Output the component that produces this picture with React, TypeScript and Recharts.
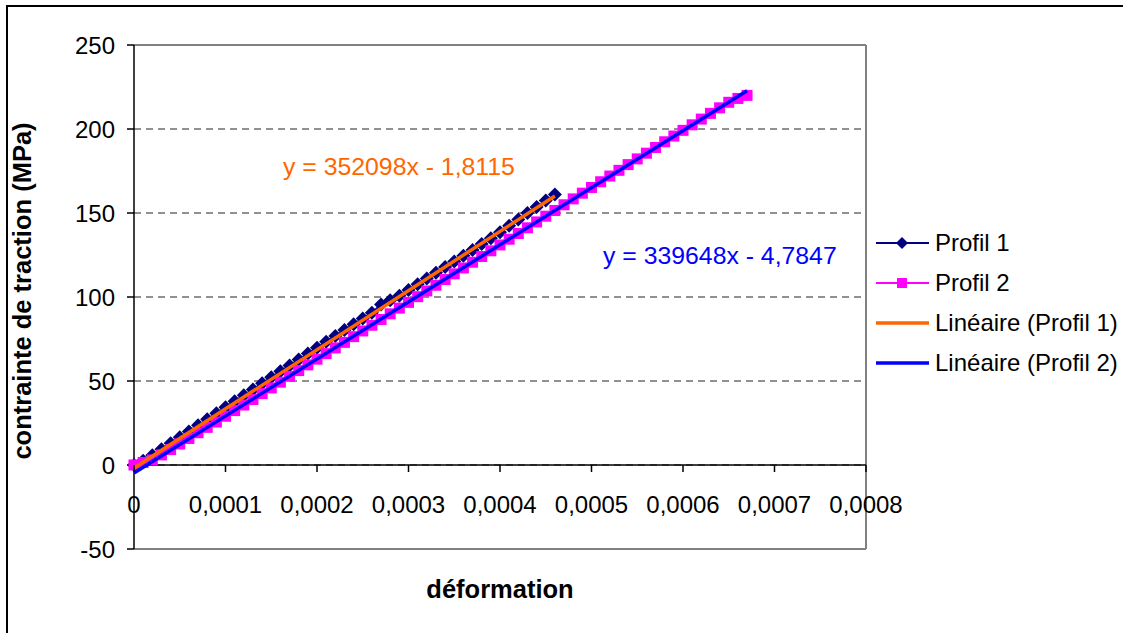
import React from "react";
import { LineChart, Line, XAxis, YAxis, CartesianGrid, ReferenceLine } from "recharts";

// strain in microstrain (µm/m), stress in MPa
const strain1 = [
  0, 10, 20, 30, 40, 50, 60, 70, 80, 90, 100, 110, 120, 130, 140, 150, 160, 170, 180, 190, 200, 210, 220,
  230, 240, 250, 260, 270, 280, 290, 300, 310, 320, 330, 340, 350, 360, 370, 380, 390, 400, 410, 420, 430,
  440, 450, 460,
];
const stress1 = [
  0, 2.5, 5.8, 9.4, 13.0, 16.5, 20.0, 23.6, 27.2, 30.8, 34.4, 38.0, 41.5, 45.0, 48.6, 52.2, 55.8, 59.3,
  62.8, 66.3, 69.8, 73.3, 76.8, 80.3, 83.8, 87.2, 90.6, 95.5, 98.0, 100.8, 104.2, 107.6, 111.0, 114.4,
  117.8, 121.2, 124.6, 128.0, 131.5, 135.0, 138.6, 142.4, 146.2, 150.0, 153.6, 157.4, 161.0,
];
const strain2 = [
  0, 10, 20, 30, 40, 50, 60, 70, 80, 90, 100, 110, 120, 130, 140, 150, 160, 170, 180, 190, 200, 210, 220,
  230, 240, 250, 260, 270, 280, 290, 300, 310, 320, 330, 340, 350, 360, 370, 380, 390, 400, 410, 420, 430,
  440, 450, 460, 470, 480, 490, 500, 510, 520, 530, 540, 550, 560, 570, 580, 590, 600, 610, 620, 630, 640,
  650, 660, 670,
];
const stress2 = [
  0, 1.5, 3.0, 6.0, 9.2, 12.5, 15.8, 19.2, 22.4, 25.6, 29.0, 32.4, 35.7, 39.0, 42.5, 45.9, 49.3, 52.8,
  56.2, 59.6, 63.0, 66.3, 69.7, 73.0, 76.4, 79.8, 83.2, 86.6, 90.0, 93.4, 96.8, 100.2, 103.6, 107.0, 110.4,
  113.8, 117.3, 120.7, 124.1, 127.5, 131.0, 134.4, 137.8, 141.2, 144.7, 148.1, 151.5, 154.9, 158.4, 161.8,
  165.2, 168.6, 172.0, 175.4, 178.8, 182.2, 185.6, 189.0, 192.4, 195.8, 199.2, 202.5, 205.9, 209.3, 212.6,
  215.9, 218.2, 220.0,
];

// linear trendlines as printed on the chart
const slope1 = 352098;
const intercept1 = -1.8115;
const slope2 = 339648;
const intercept2 = -4.7847;

const xTicks = [0, 0.0001, 0.0002, 0.0003, 0.0004, 0.0005, 0.0006, 0.0007, 0.0008];
const yTicks = [-50, 0, 50, 100, 150, 200, 250];

const toPoints = (xs: number[], ys: number[]) => xs.map((v, i) => ({ x: v / 1e6, y: ys[i] }));
const profil1 = toPoints(strain1, stress1);
const profil2 = toPoints(strain2, stress2);
const trendEnds = (xs: number[], a: number, b: number) => {
  const x0 = 0;
  const x1 = xs[xs.length - 1] / 1e6;
  return [
    { x: x0, y: a * x0 + b },
    { x: x1, y: a * x1 + b },
  ];
};
const trend1 = trendEnds(strain1, slope1, intercept1);
const trend2 = trendEnds(strain2, slope2, intercept2);

const W = 1123;
const H = 633;
const TOP = 45;
const PLOT_LEFT = 134;
const PLOT_RIGHT = 866;
const PLOT_BOTTOM = 549;
const Y_W = 60;
const X_H = 30;
const FONT = "'Liberation Sans', Arial, sans-serif";
const zeroOffset = ((PLOT_BOTTOM - TOP) * 50) / 300;

const fmtX = (v: number) => (v === 0 ? "0" : v.toFixed(4).replace(".", ","));

function XTick(props: any) {
  const { x, y, payload } = props;
  const zy = y - zeroOffset;
  return (
    <g>
      <line x1={x} x2={x} y1={zy} y2={zy + 7} stroke="#000" strokeWidth={1.5} />
      <text x={x} y={zy + 48} textAnchor="middle" fontSize={24} fontFamily={FONT} fill="#000">
        {fmtX(payload.value)}
      </text>
    </g>
  );
}

function Diamond(props: any) {
  const { cx, cy } = props;
  if (cx == null || cy == null) return <g />;
  const r = 7;
  return <path d={`M${cx},${cy - r}L${cx + r},${cy}L${cx},${cy + r}L${cx - r},${cy}Z`} fill="#000080" />;
}

function Square(props: any) {
  const { cx, cy } = props;
  if (cx == null || cy == null) return <g />;
  const r = 5.5;
  return <rect x={cx - r} y={cy - r} width={r * 2} height={r * 2} fill="#FF00FF" />;
}

const legendItems = [
  { name: "Profil 1", color: "#000080", kind: "diamond" },
  { name: "Profil 2", color: "#FF00FF", kind: "square" },
  { name: "Linéaire (Profil 1)", color: "#FF6600", kind: "line" },
  { name: "Linéaire (Profil 2)", color: "#0000FF", kind: "line" },
];

export default function App() {
  return (
    <div
      style={{
        position: "absolute",
        left: 0,
        top: 0,
        width: W,
        height: H,
        overflow: "hidden",
        background: "#fff",
        fontFamily: FONT,
      }}
    >
      <div
        style={{
          position: "absolute",
          left: 6,
          top: 5,
          width: W + 40,
          height: H + 40,
          border: "2px solid #000",
        }}
      />
      <LineChart
        width={W}
        height={H}
        margin={{ top: TOP, right: W - PLOT_RIGHT, left: PLOT_LEFT - Y_W, bottom: H - PLOT_BOTTOM - X_H }}
        style={{ position: "absolute", left: 0, top: 0 }}
      >
        <CartesianGrid vertical={false} stroke="#222" strokeDasharray="7 5" />
        <XAxis
          type="number"
          dataKey="x"
          domain={[0, 0.0008]}
          ticks={xTicks}
          height={X_H}
          axisLine={false}
          tickLine={false}
          tickSize={0}
          tickMargin={0}
          tick={<XTick />}
          interval={0}
        />
        <YAxis
          type="number"
          dataKey="y"
          domain={[-50, 250]}
          ticks={yTicks}
          width={Y_W}
          interval={0}
          axisLine={{ stroke: "#000", strokeWidth: 1.5 }}
          tickLine={{ stroke: "#000", strokeWidth: 1.5 }}
          tickSize={7}
          tickMargin={12}
          tick={{ fontSize: 24, fontFamily: FONT, fill: "#000" }}
        />
        <ReferenceLine y={250} stroke="#808080" strokeWidth={2} />
        <ReferenceLine y={-50} stroke="#808080" strokeWidth={2} />
        <ReferenceLine x={0.0008} stroke="#808080" strokeWidth={2} />
        <ReferenceLine y={0} stroke="#000" strokeWidth={1.5} />
        <Line
          data={profil1}
          dataKey="y"
          stroke="#000080"
          strokeWidth={2}
          dot={<Diamond />}
          activeDot={false}
          isAnimationActive={false}
        />
        <Line
          data={profil2}
          dataKey="y"
          stroke="#FF00FF"
          strokeWidth={2}
          dot={<Square />}
          activeDot={false}
          isAnimationActive={false}
        />
        <Line
          data={trend1}
          dataKey="y"
          stroke="#FF6600"
          strokeWidth={3.5}
          dot={false}
          activeDot={false}
          isAnimationActive={false}
          zIndex={1500}
        />
        <Line
          data={trend2}
          dataKey="y"
          stroke="#0000FF"
          strokeWidth={3.5}
          dot={false}
          activeDot={false}
          isAnimationActive={false}
          zIndex={1500}
        />
      </LineChart>

      <div style={{ position: "absolute", left: 283, top: 153, fontSize: 24.8, color: "#FF6600", whiteSpace: "nowrap" }}>
        y = {slope1}x - {Math.abs(intercept1).toString().replace(".", ",")}
      </div>
      <div style={{ position: "absolute", left: 603, top: 242, fontSize: 24.8, color: "#0000FF", whiteSpace: "nowrap" }}>
        y = {slope2}x - {Math.abs(intercept2).toString().replace(".", ",")}
      </div>

      <div
        style={{
          position: "absolute",
          left: (PLOT_LEFT + PLOT_RIGHT) / 2 - 150,
          width: 300,
          top: 575,
          textAlign: "center",
          fontSize: 25.5,
          fontWeight: "bold",
        }}
      >
        déformation
      </div>
      <div
        style={{
          position: "absolute",
          left: 22 - 200,
          top: 291 - 15,
          width: 400,
          height: 30,
          lineHeight: "30px",
          textAlign: "center",
          fontSize: 25.5,
          fontWeight: "bold",
          transform: "rotate(-90deg)",
          whiteSpace: "nowrap",
        }}
      >
        contrainte de traction (MPa)
      </div>

      {legendItems.map((it, i) => (
        <div key={it.name} style={{ position: "absolute", left: 876, top: 243 + i * 40 - 15, height: 30, display: "flex", alignItems: "center" }}>
          <svg width={54} height={30}>
            <line x1={0} x2={53} y1={15} y2={15} stroke={it.color} strokeWidth={it.kind === "line" ? 3.5 : 2} />
            {it.kind === "diamond" && <path d="M26,9L32,15L26,21L20,15Z" fill={it.color} />}
            {it.kind === "square" && <rect x={21} y={10} width={10} height={10} fill={it.color} />}
          </svg>
          <span style={{ marginLeft: 5, fontSize: 24, color: "#000", whiteSpace: "nowrap" }}>{it.name}</span>
        </div>
      ))}
    </div>
  );
}
